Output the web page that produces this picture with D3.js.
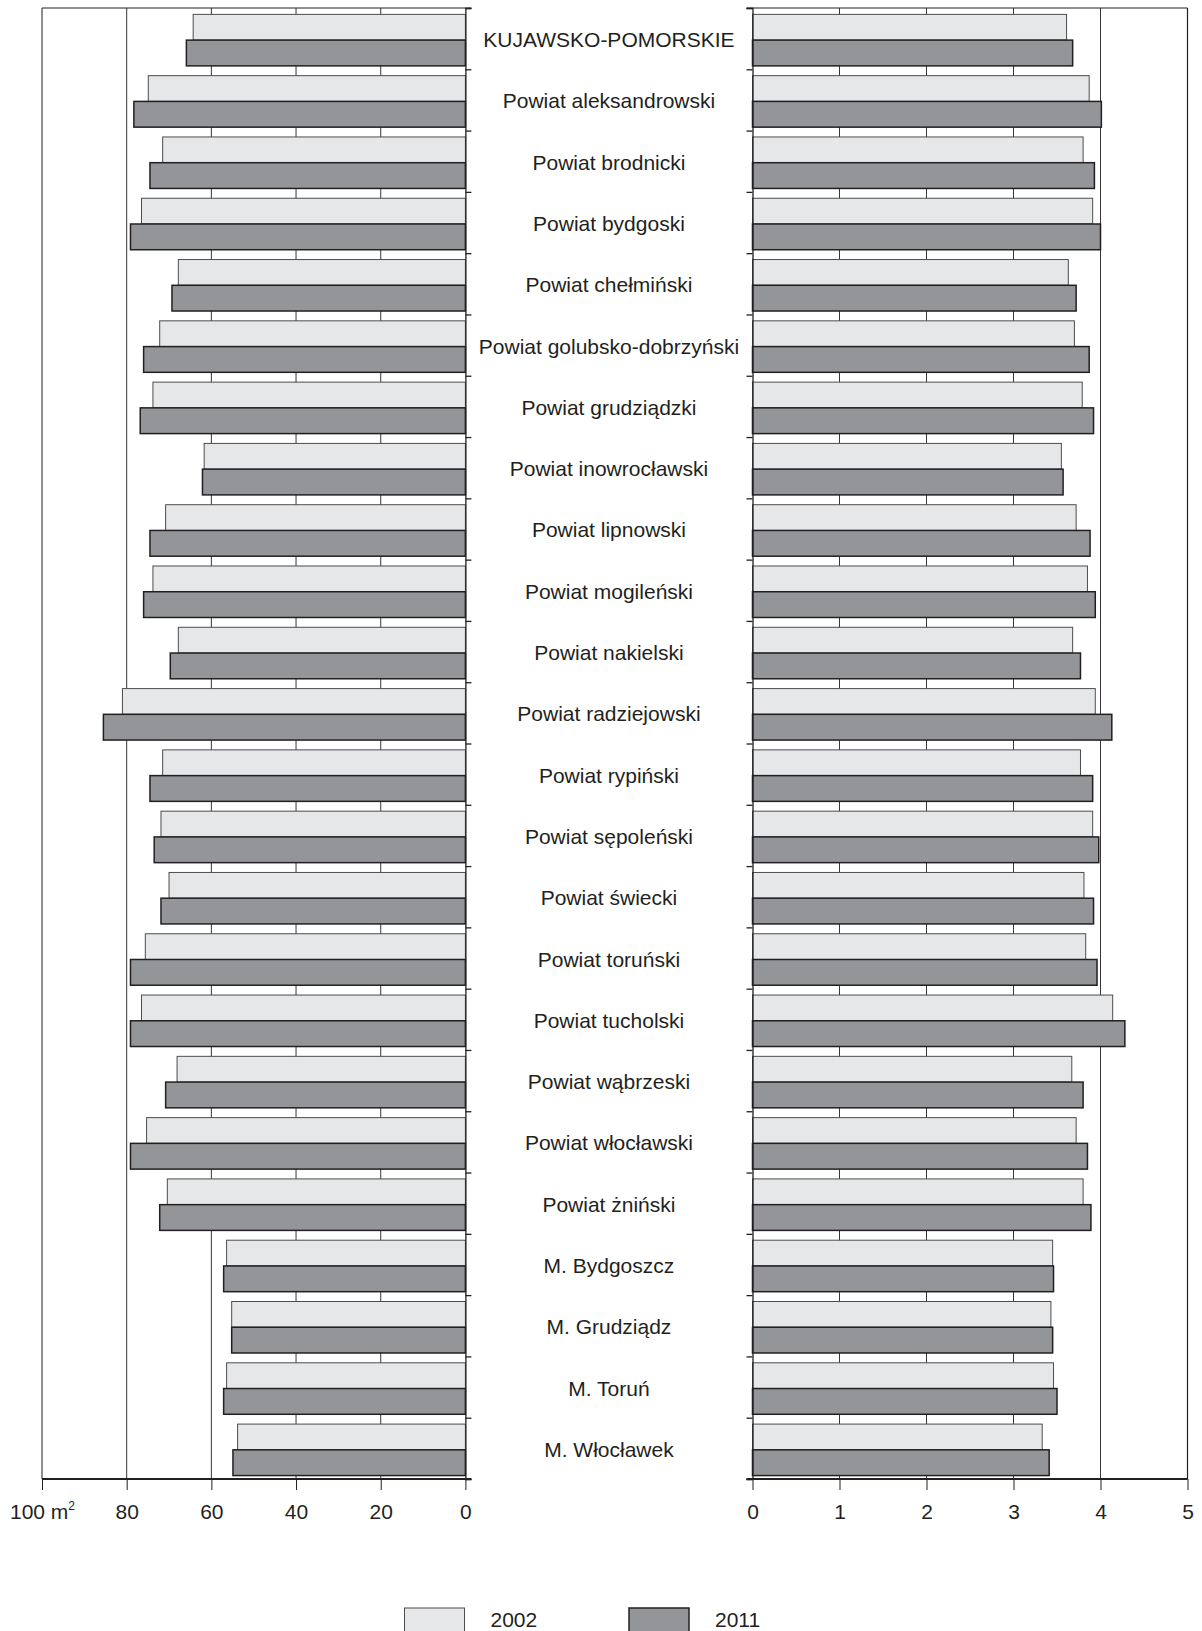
<!DOCTYPE html>
<html><head><meta charset="utf-8">
<script src="https://cdn.jsdelivr.net/npm/d3@7"></script>
<style>
body{margin:0;background:#fff}
svg text{font-family:"Liberation Sans",Arial,sans-serif;fill:#231f20}
</style>
</head><body>
<svg id="c" width="1202" height="1631"></svg>
<script>
const categories = [
  "KUJAWSKO-POMORSKIE","Powiat aleksandrowski","Powiat brodnicki","Powiat bydgoski",
  "Powiat chełmiński","Powiat golubsko-dobrzyński","Powiat grudziądzki","Powiat inowrocławski",
  "Powiat lipnowski","Powiat mogileński","Powiat nakielski","Powiat radziejowski",
  "Powiat rypiński","Powiat sępoleński","Powiat świecki","Powiat toruński",
  "Powiat tucholski","Powiat wąbrzeski","Powiat włocławski","Powiat żniński",
  "M. Bydgoszcz","M. Grudziądz","M. Toruń","M. Włocławek"
];
// left panel: usable floor area per dwelling (m2)
const area2002 = [64.3,74.9,71.5,76.5,67.8,72.2,73.8,61.7,70.8,73.8,67.8,81.0,71.5,71.9,70.0,75.6,76.5,68.1,75.3,70.4,56.4,55.2,56.4,53.8];
const area2011 = [65.9,78.3,74.5,79.1,69.3,76.0,76.8,62.1,74.5,76.0,69.7,85.5,74.5,73.5,71.9,79.1,79.1,70.8,79.1,72.2,57.1,55.2,57.1,54.9];
// right panel: rooms per dwelling
const rooms2002 = [3.61,3.87,3.80,3.91,3.63,3.70,3.79,3.55,3.72,3.85,3.68,3.94,3.77,3.91,3.81,3.83,4.14,3.67,3.72,3.80,3.45,3.43,3.46,3.33];
const rooms2011 = [3.68,4.01,3.93,4.00,3.72,3.87,3.92,3.57,3.88,3.94,3.77,4.13,3.91,3.98,3.92,3.96,4.28,3.80,3.85,3.89,3.46,3.45,3.50,3.41];
const leftTicks = [100,80,60,40,20,0];
const rightTicks = [0,1,2,3,4,5];
const seriesNames = ["2002","2011"];
const seriesFill = ["#e6e7e8","#939598"];

const svg = d3.select("#c");
const yTop = 8, yBot = 1479;
const xL = d3.scaleLinear().domain([100,0]).range([42,465.4]);
const xR = d3.scaleLinear().domain([0,5]).range([752.5,1187.5]);
const y = d3.scaleBand().domain(categories).range([yTop,yBot]).padding(0);
const yIdx = d3.scaleLinear().domain([0,categories.length]).range([yTop,yBot]);
const bw = y.bandwidth();
const off = [bw*0.104, bw*0.104 + bw*0.42];
const bh = bw*0.42;
const ink = "#231f20";

// gridlines
const grid = svg.append("g");
grid.selectAll("line.gl").data(leftTicks.filter(d=>d>0&&d<100)).join("line")
  .attr("x1",d=>xL(d)).attr("x2",d=>xL(d)).attr("y1",yTop).attr("y2",yBot)
  .attr("stroke",ink).attr("stroke-width",0.9);
grid.selectAll("line.gr").data(rightTicks.filter(d=>d>0&&d<5)).join("line")
  .attr("x1",d=>xR(d)).attr("x2",d=>xR(d)).attr("y1",yTop).attr("y2",yBot)
  .attr("stroke",ink).attr("stroke-width",0.9);

// bars
const series = [
  {left: area2002, right: rooms2002},
  {left: area2011, right: rooms2011}
];
series.forEach((s,si)=>{
  const g = svg.append("g");
  g.selectAll("rect.l").data(categories).join("rect")
    .attr("x",(c,i)=>xL(s.left[i])).attr("width",(c,i)=>xL(0)-xL(s.left[i]))
    .attr("y",c=>y(c)+off[si]).attr("height",bh)
    .attr("fill",seriesFill[si])
    .attr("stroke",si===0?"#4d4d4f":ink).attr("stroke-width",si===0?1:1.5);
  g.selectAll("rect.r").data(categories).join("rect")
    .attr("x",xR(0)).attr("width",(c,i)=>xR(s.right[i])-xR(0))
    .attr("y",c=>y(c)+off[si]).attr("height",bh)
    .attr("fill",seriesFill[si])
    .attr("stroke",si===0?"#4d4d4f":ink).attr("stroke-width",si===0?1:1.5);
});

// frame lines
const frame = svg.append("g").attr("stroke",ink).attr("fill","none");
frame.append("line").attr("x1",xL(100)).attr("x2",xL(0)+6).attr("y1",yTop).attr("y2",yTop).attr("stroke-width",1);
frame.append("line").attr("x1",xR(0)-6).attr("x2",xR(5)).attr("y1",yTop).attr("y2",yTop).attr("stroke-width",1);
frame.append("line").attr("x1",xL(100)).attr("x2",xL(100)).attr("y1",yTop).attr("y2",yBot).attr("stroke-width",1);
frame.append("line").attr("x1",xR(5)).attr("x2",xR(5)).attr("y1",yTop).attr("y2",yBot).attr("stroke-width",1.2);

// category tick axes
const catL = svg.append("g").attr("transform",`translate(${xL(0)},0)`)
  .call(d3.axisRight(yIdx).tickValues(d3.range(0,categories.length+1)).tickSize(6).tickFormat(""));
const catR = svg.append("g").attr("transform",`translate(${xR(0)},0)`)
  .call(d3.axisLeft(yIdx).tickValues(d3.range(0,categories.length+1)).tickSize(6).tickFormat(""));
[catL,catR].forEach(g=>{
  g.select(".domain").attr("stroke",ink).attr("stroke-width",1.3);
  g.selectAll(".tick line").attr("stroke",ink).attr("stroke-width",1.3);
});

// category labels
svg.append("g").selectAll("text").data(categories).join("text")
  .attr("x",(xL(0)+xR(0))/2).attr("y",c=>y(c)+bw/2+8.5)
  .attr("text-anchor","middle").attr("font-size",21).text(c=>c);

// bottom value axes
const axL = svg.append("g").attr("transform",`translate(0,${yBot})`)
  .call(d3.axisBottom(xL).tickValues(leftTicks).tickSize(11).tickPadding(14).tickFormat(d3.format("d")));
const axR = svg.append("g").attr("transform",`translate(0,${yBot})`)
  .call(d3.axisBottom(xR).tickValues(rightTicks).tickSize(11).tickPadding(14).tickFormat(d3.format("d")));
[axL,axR].forEach(g=>{
  g.select(".domain").remove();
  g.selectAll(".tick line").attr("stroke",ink).attr("stroke-width",1);
  g.selectAll(".tick text").attr("font-size",21).attr("font-family","Liberation Sans, Arial, sans-serif").attr("fill",ink);
});
axL.selectAll(".tick text").filter(d=>d===100).each(function(){
  const t = d3.select(this); t.text("");
  t.append("tspan").text("100 m");
  t.append("tspan").attr("font-size",12).attr("dy",-9).text("2");
});
svg.append("line").attr("x1",xL(100)).attr("x2",xL(0)+6).attr("y1",yBot).attr("y2",yBot).attr("stroke",ink).attr("stroke-width",2.2);
svg.append("line").attr("x1",xR(0)-6).attr("x2",xR(5)).attr("y1",yBot).attr("y2",yBot).attr("stroke",ink).attr("stroke-width",2.2);

// legend
const legX = [404.5, 629];
const lg = svg.append("g");
seriesNames.forEach((n,i)=>{
  lg.append("rect").attr("x",legX[i]).attr("y",1608).attr("width",60).attr("height",40)
    .attr("fill",seriesFill[i]).attr("stroke",i===0?"#4d4d4f":ink).attr("stroke-width",i===0?1:1.5);
  lg.append("text").attr("x",legX[i]+86).attr("y",1627).attr("font-size",21).text(n);
});
</script>
</body></html>
